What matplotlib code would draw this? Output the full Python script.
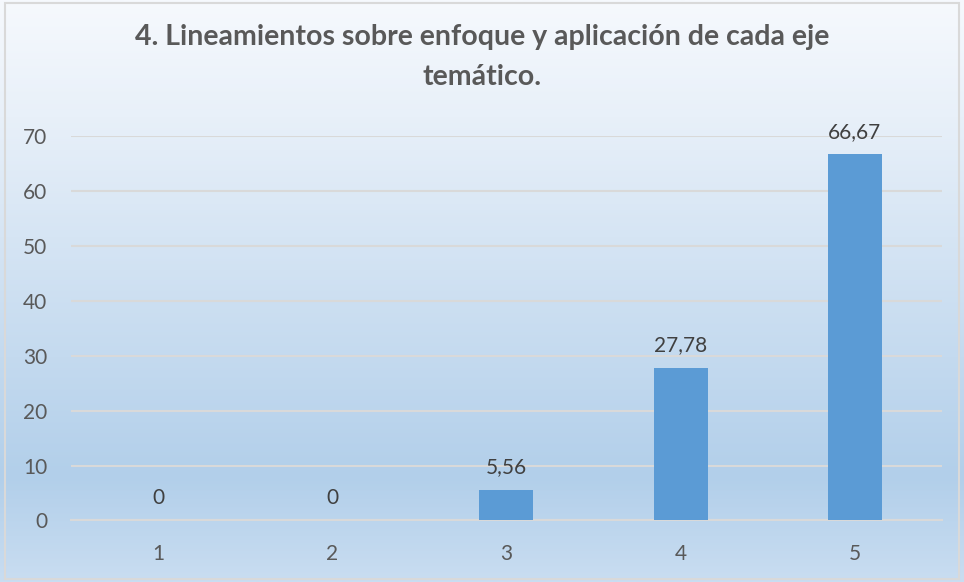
import numpy as np
import matplotlib.pyplot as plt
from matplotlib.colors import LinearSegmentedColormap
from matplotlib.patches import Rectangle

categories = ['1', '2', '3', '4', '5']
values = [0, 0, 5.56, 27.78, 66.67]
labels = ['0', '0', '5,56', '27,78', '66,67']
title = '4. Lineamientos sobre enfoque y aplicación de cada eje\ntemático.'

plt.rcParams['font.family'] = ['Lato', 'DejaVu Sans']

fig = plt.figure(figsize=(9.64, 5.82), dpi=100)

# gradient background over the whole chart area
bg = fig.add_axes([0, 0, 1, 1], zorder=-1)
cmap = LinearSegmentedColormap.from_list(
    'bg', [(0.0, '#F6F9FD'), (0.2, '#E8F0F9'), (0.82, '#B2CFEA'), (1.0, '#C9DDF1')])
grad = np.linspace(0, 1, 256).reshape(-1, 1)
bg.imshow(grad, aspect='auto', cmap=cmap, extent=[0, 1, 0, 1], origin='upper')
bg.add_patch(Rectangle((0.005, 0.005), 0.99, 0.99, fill=False,
                       edgecolor='#D9D9D9', linewidth=1.5, transform=bg.transAxes))
bg.set_xlim(0, 1)
bg.set_ylim(0, 1)
bg.axis('off')

ax = fig.add_axes([0.0737, 0.1057, 0.9033, 0.6603])
ax.patch.set_alpha(0)
x = np.arange(len(categories))
ax.bar(x, values, width=0.31, color='#5B9BD5', zorder=3)
for xi, v, lab in zip(x, values, labels):
    ax.annotate(lab, (xi, v), xytext=(0, 9), textcoords='offset points',
                ha='center', va='bottom', fontsize=15, color='#404040')

ax.set_xlim(-0.5, len(categories) - 0.5)
ax.set_ylim(0, 70)
ax.set_yticks(range(0, 71, 10))
ax.set_xticks(x)
ax.set_xticklabels(categories)
ax.yaxis.grid(True, color='#D9D9D9', linewidth=1.5, zorder=0)
ax.set_axisbelow(True)
for s in ['top', 'right', 'left']:
    ax.spines[s].set_visible(False)
ax.spines['bottom'].set_color('#D9D9D9')
ax.spines['bottom'].set_linewidth(1.5)
ax.tick_params(length=0, labelsize=15, labelcolor='#595959')
ax.tick_params(axis='y', pad=17)
ax.tick_params(axis='x', pad=17)

fig.text(0.5, 0.902, title, ha='center', va='center', fontsize=20.5,
         fontweight='bold', color='#595959', linespacing=1.7)

fig.savefig('out.png', dpi=100)
